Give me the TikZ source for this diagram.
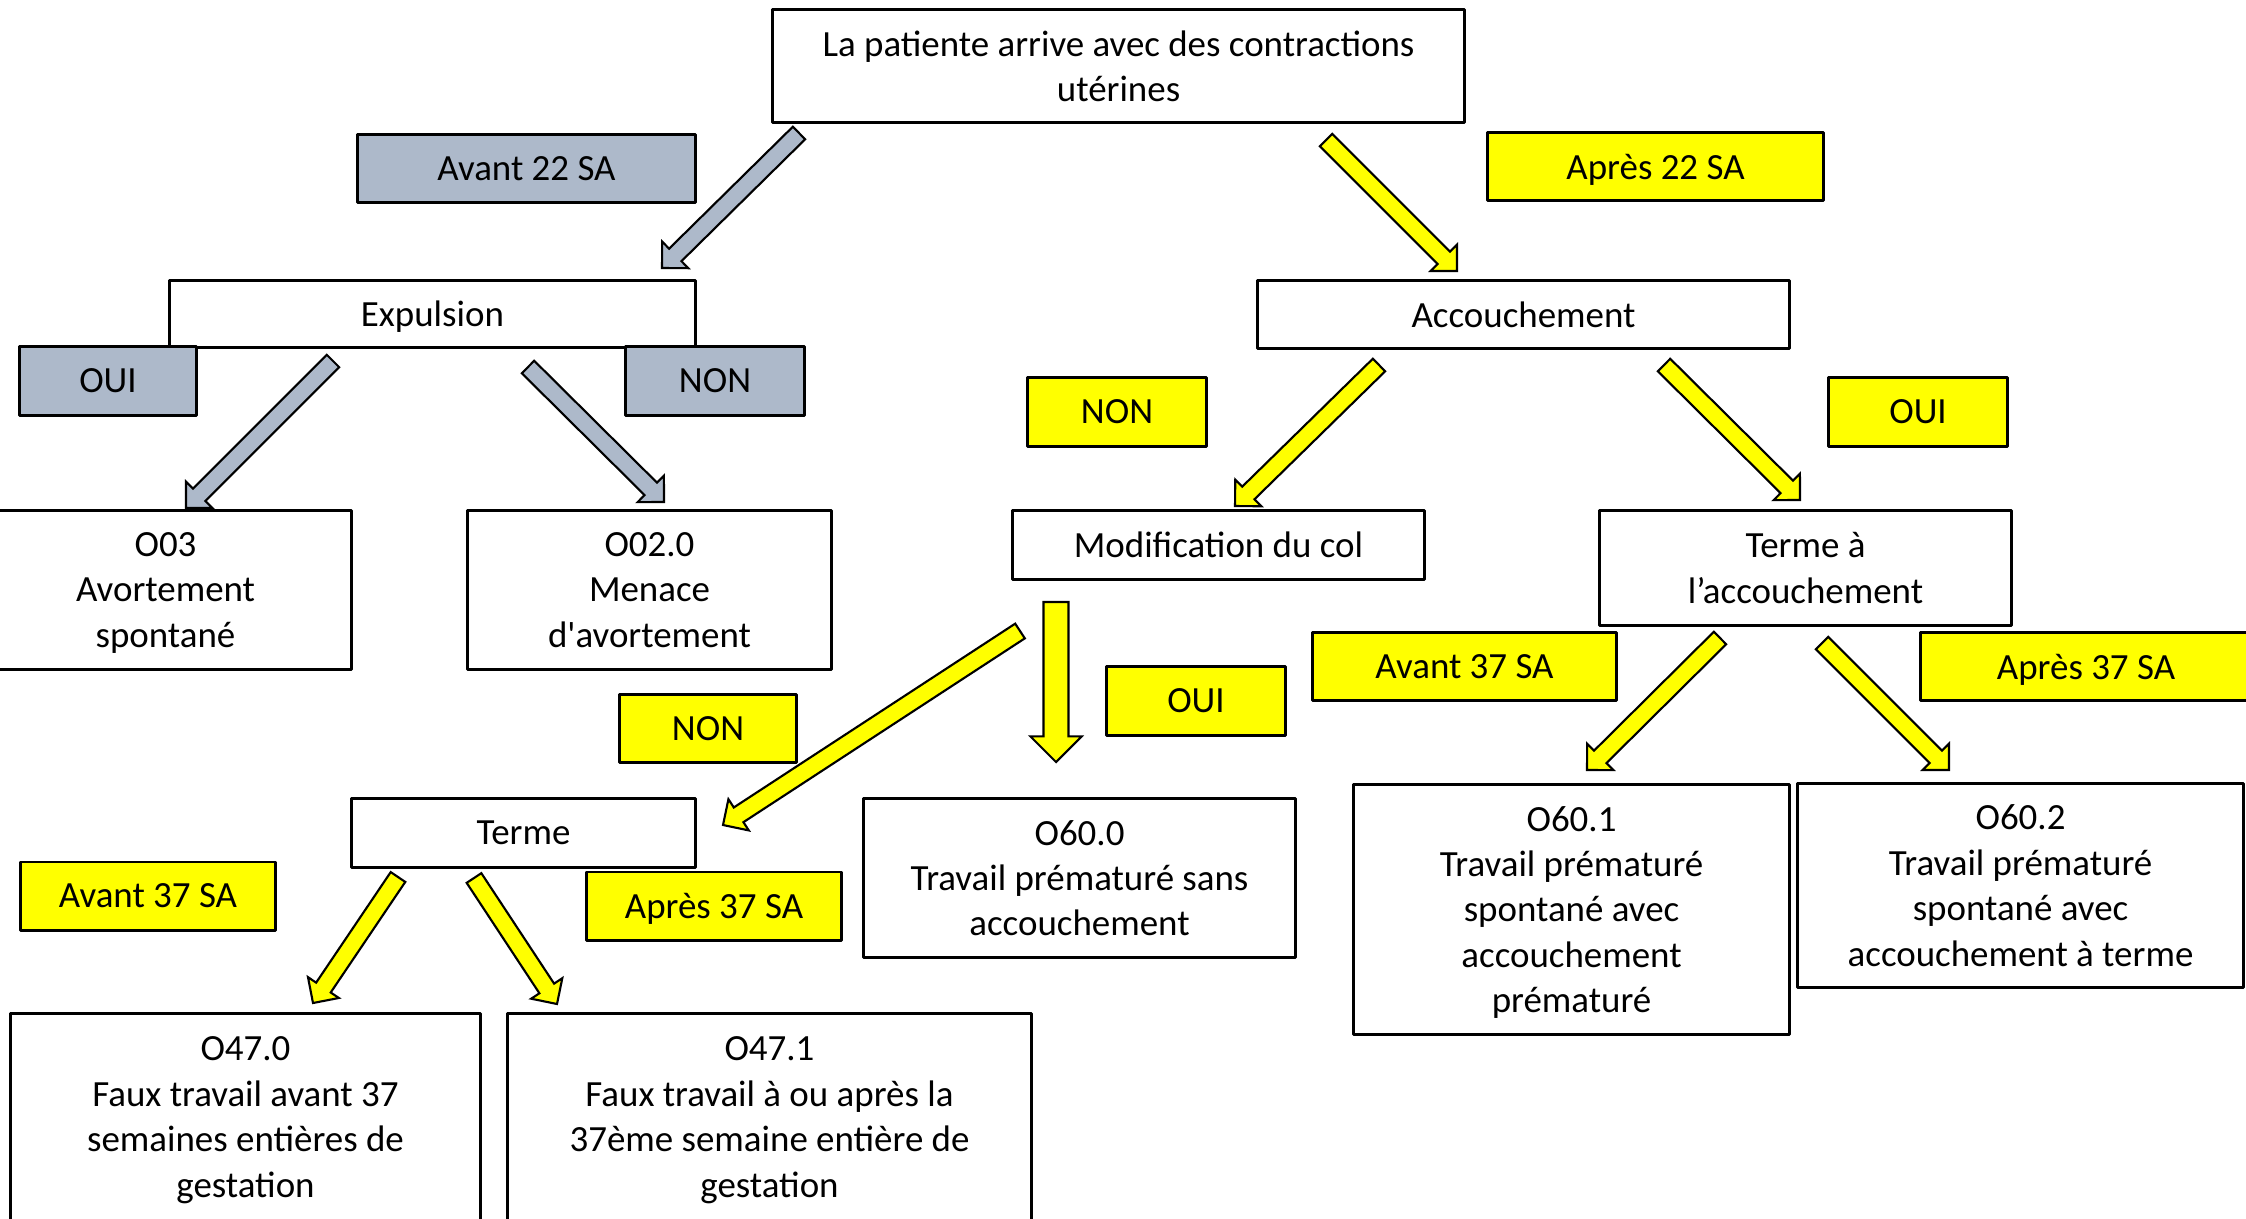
\documentclass[tikz,border=0pt]{standalone}
\usepackage{fontspec}
\setmainfont{Carlito}[Ligatures=TeXOff]
\usetikzlibrary{calc}
\definecolor{greybox}{HTML}{ADB9CA}
\definecolor{yel}{HTML}{FFFF00}
\tikzset{
  box/.style={draw,line width=.85pt,align=center,inner sep=0pt,fill=white,text depth=0pt},
  greytag/.style={box,fill=greybox},
  yellowtag/.style={box,fill=yel},
  arrowline/.style={draw=black,line width=.6pt,line join=miter},
}
% colour, tail, tip, shaft half width, head half width
\newcommand\blockarrow[5]{%
  \coordinate (hb) at ($(#3)!#5!(#2)$);
  \draw[arrowline,fill=#1] ($(#2)!#4!90:(#3)$) -- ($(hb)!#4!90:(#3)$) -- ($(hb)!#5!90:(#3)$) -- (#3)
    -- ($(hb)!#5!-90:(#3)$) -- ($(hb)!#4!-90:(#3)$) -- ($(#2)!#4!-90:(#3)$) -- cycle;
}
\begin{document}
\begin{tikzpicture}[x=.01cm,y=-.01cm,font=\fontsize{10.5pt}{12.9pt}\selectfont,line join=round]
	\clip (0,0) rectangle (2246,1218);
	\fill[white] (0,0) rectangle (2246,1218);
	% question boxes
	\node[box,minimum width=6.91cm,minimum height=1.12cm] (start) at (1118.5,66) {La patiente arrive avec des contractions\\utérines};
	\node[box,minimum width=5.25cm,minimum height=.66cm] (expul) at (432.5,314) {Expulsion};
	\node[box,minimum width=5.31cm,minimum height=.67cm] (accou) at (1523.5,314.5) {Accouchement};
	\node[box,minimum width=4.11cm,minimum height=.68cm] (modif) at (1218.5,545) {Modification du col};
	\node[box,minimum width=4.11cm,minimum height=1.14cm] (termeacc) at (1805.5,568) {Terme à\\l’accouchement};
	\node[box,minimum width=3.43cm,minimum height=.68cm] (terme) at (523.5,833) {Terme};
	% codes
	\node[box,minimum width=3.71cm,minimum height=1.58cm] (o03) at (165.5,590) {O03\\Avortement\\spontané};
	\node[box,minimum width=3.63cm,minimum height=1.58cm] (o020) at (649.5,590) {O02.0\\Menace\\d'avortement};
	\node[box,minimum width=4.31cm,minimum height=1.58cm] (o600) at (1079.5,878) {O60.0\\Travail prématuré sans\\accouchement};
	\node[box,minimum width=4.35cm,minimum height=2.49cm] (o601) at (1571.5,909.5) {O60.1\\Travail prématuré\\spontané avec\\accouchement\\prématuré};
	\node[box,minimum width=4.45cm,minimum height=2.03cm] (o602) at (2020.5,885.5) {O60.2\\Travail prématuré\\spontané avec\\accouchement à terme};
	\node[box,minimum width=4.69cm,minimum height=2.06cm] (o470) at (245.5,1117) {O47.0\\Faux travail avant 37\\semaines entières de\\gestation};
	\node[box,minimum width=5.23cm,minimum height=2.06cm] (o471) at (769.5,1117) {O47.1\\Faux travail à ou après la\\37ème semaine entière de\\gestation};
	% answer tags
	\node[greytag,minimum width=3.37cm,minimum height=.67cm] (av22) at (526.5,168.5) {Avant 22 SA};
	\node[yellowtag,minimum width=3.35cm,minimum height=.67cm] (ap22) at (1655.5,166.5) {Après 22 SA};
	\node[greytag,minimum width=1.76cm,minimum height=.68cm] (ouiA) at (108,381) {OUI};
	\node[greytag,minimum width=1.78cm,minimum height=.68cm] (nonA) at (715,381) {NON};
	\node[yellowtag,minimum width=1.78cm,minimum height=.68cm] (nonB) at (1117,412) {NON};
	\node[yellowtag,minimum width=1.78cm,minimum height=.68cm] (ouiB) at (1918,412) {OUI};
	\node[yellowtag,minimum width=3.03cm,minimum height=.67cm] (av37r) at (1464.5,666.5) {Avant 37 SA};
	\node[yellowtag,minimum width=3.30cm,minimum height=.67cm] (ap37r) at (2086,666.5) {Après 37 SA};
	\node[yellowtag,minimum width=1.76cm,minimum height=.67cm] (nonC) at (708,728.5) {NON};
	\node[yellowtag,minimum width=1.78cm,minimum height=.68cm] (ouiC) at (1196,701) {OUI};
	\node[yellowtag,minimum width=2.54cm,minimum height=.68cm] (av37l) at (148,896) {Avant 37 SA};
	\node[yellowtag,minimum width=2.54cm,minimum height=.68cm] (ap37l) at (714,906) {Après 37 SA};
	% arrow ends
	\path
	(799,133)coordinate(t1) (662,268)coordinate(h1)
	(1326,140)coordinate(t2) (1457,271)coordinate(h2)
	(333,361)coordinate(t3) (186,508)coordinate(h3)
	(528,367)coordinate(t4) (664,502)coordinate(h4)
	(1379,365)coordinate(t5) (1235,506)coordinate(h5)
	(1664,365)coordinate(t6) (1800,500)coordinate(h6)
	(1020,631)coordinate(t7) (723,825)coordinate(h7)
	(1720,638)coordinate(t9) (1587,770)coordinate(h9)
	(1822,643)coordinate(t10) (1949,770)coordinate(h10)
	(398,877)coordinate(t11) (313,1003)coordinate(h11)
	(474,878)coordinate(t12) (557,1004)coordinate(h12)
	(1056,602)coordinate(t8) (1056,762)coordinate(h8)
	;
	\foreach \c/\n in {greybox/1,yel/2,greybox/3,greybox/4,yel/5,yel/6,yel/7,yel/9,yel/10,yel/11,yel/12}
		\blockarrow{\c}{t\n}{h\n}{2.5pt}{5.3pt};
	\blockarrow{yel}{t8}{h8}{3.55pt}{7.3pt}
\end{tikzpicture}
\end{document}
